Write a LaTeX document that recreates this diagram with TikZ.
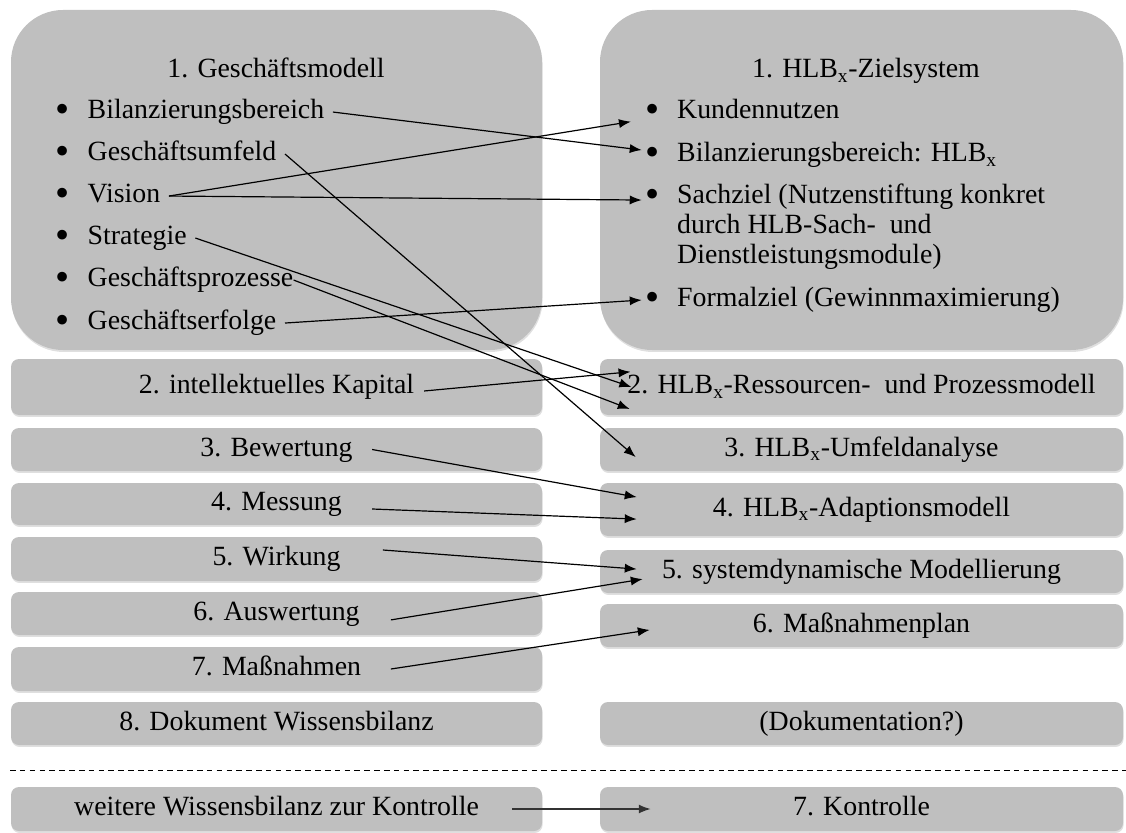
\documentclass[tikz,border=0pt]{standalone}
\usepackage{fontspec}
\setmainfont{Liberation Serif}
\usetikzlibrary{arrows.meta}
\usetikzlibrary{shadows}
\tikzset{>={Latex[length=8.5pt, width=6.5pt]}}
\newcommand{\boxfont}{\fontsize{19.8pt}{21.3pt}\selectfont}
\newcommand{\bull}{\leavevmode\llap{\raisebox{-0.11em}{\scalebox{1.45}{\textbullet}}\hspace{0.64em}}}
\newcommand{\hlb}{HLB\textsubscript{x}}
\tikzstyle{boxshadow} = [drop shadow={shadow xshift=0.4pt, shadow yshift=-1.4pt, opacity=0.25}]
\tikzstyle{bigbox} = [rectangle, fill=gray!50, rounded corners=1.3cm, minimum width=13.275cm, minimum height=8.5cm, boxshadow]
\tikzstyle{lbox} = [rectangle, fill=gray!50, rounded corners=0.2cm, inner sep=0pt, minimum width=13.275cm, minimum height=1.1cm, text height=13.9pt, text depth=4pt, font=\boxfont, boxshadow]
\tikzstyle{rbox} = [lbox, minimum width=13.075cm]
\tikzstyle{item} = [anchor=base west, inner xsep=6pt, inner ysep=0pt, text height=13.9pt, text depth=4pt, font=\boxfont]
\tikzstyle{headline} = [anchor=base, font=\boxfont]
\tikzstyle{link} = [->, line width=0.85pt]

\begin{document}
\begin{tikzpicture}
\useasboundingbox (0, 0) rectangle (28.15, 20.8);
\node [bigbox] (G) at (6.9125, 16.3) {};
\node [bigbox, minimum width=13.075cm] (Z) at (21.5375, 16.3) {};
\node [headline] (Gt) at (6.9, 18.85) {1. Geschäftsmodell};
\node [headline] (Zt) at (21.65, 18.85) {1. \hlb-Zielsystem};

\node [item] (gbil) at (1.975, 17.825) {\bull Bilanzierungsbereich};
\node [item] (gumf) at (1.975, 16.775) {\bull Geschäftsumfeld};
\node [item] (gvis) at (1.975, 15.725) {\bull Vision};
\node [item] (gstr) at (1.975, 14.675) {\bull Strategie};
\node [item] (gpro) at (1.975, 13.625) {\bull Geschäftsprozesse};
\node [item] (gerf) at (1.975, 12.55) {\bull Geschäftserfolge};

\node [item] (zkun) at (16.7125, 17.825) {\bull Kundennutzen};
\node [item] (zbil) at (16.7125, 16.75) {\bull Bilanzierungsbereich: \hlb};
\node [item] (zsach) at (16.7125, 15.7) {\parbox[t]{10cm}{\bull Sachziel (Nutzenstiftung konkret\\durch HLB-Sach-~ und\\Dienstleistungsmodule)}};
\node [item] (zform) at (16.7125, 13.125) {\bull Formalziel (Gewinnmaximierung)};

\node [lbox, minimum height=1.4cm] (L2) at (6.9125, 11.125) {2. intellektuelles Kapital};
\node [rbox, minimum height=1.4cm] (R2) at (21.5375, 11.125) {2. \hlb-Ressourcen-~ und Prozessmodell};
\node [lbox, minimum height=1.075cm] (L3) at (6.9125, 9.5625) {3. Bewertung};
\node [rbox, minimum height=1.075cm] (R3) at (21.5375, 9.5625) {3. \hlb-Umfeldanalyse};
\node [lbox, minimum height=1.05cm] (L4) at (6.9125, 8.2) {4. Messung};
\node [rbox, minimum height=1.325cm] (R4) at (21.5375, 8.0625) {4. \hlb-Adaptionsmodell};
\node [lbox] (L5) at (6.9125, 6.825) {5. Wirkung};
\node [rbox, minimum height=1.075cm] (R5) at (21.5375, 6.5125) {5. systemdynamische Modellierung};
\node [lbox, minimum height=1.075cm] (L6) at (6.9125, 5.4625) {6. Auswertung};
\node [rbox, minimum height=1.075cm] (R6) at (21.5375, 5.1625) {6. Maßnahmenplan};
\node [lbox] (L7) at (6.9125, 4.075) {7. Maßnahmen};
\node [lbox, minimum height=1.075cm] (L8) at (6.9125, 2.7125) {8. Dokument Wissensbilanz};
\node [rbox, minimum height=1.075cm] (R8) at (21.5375, 2.7125) {(Dokumentation?)};
\node [lbox] (L9) at (6.9125, 0.575) {weitere Wissensbilanz zur Kontrolle};
\node [rbox] (R9) at (21.5375, 0.575) {7. Kontrolle};

\coordinate (sepL) at (0.25, 1.55);
\coordinate (sepR) at (28.15, 1.55);
\draw [dash pattern=on 4pt off 3pt, line width=0.6pt] (sepL) -- (sepR);

\draw [link] (gbil.east) -- ([xshift=-0.67cm, yshift=0.125cm]zbil.west);
\draw [link] (gvis.east) -- ([xshift=-0.94cm, yshift=-0.24cm]zkun.west);
\draw [link] (gvis.east) -- ([xshift=-0.67cm, yshift=-0.075cm]zsach.west);
\draw [link] (gumf.east) -- ([xshift=0.9cm, yshift=-0.19cm]R3.west);
\draw [link] (gstr.east) -- ([xshift=0.79cm]R2.west);
\draw [link] ([xshift=-6pt]gpro.east) -- ([xshift=0.75cm, yshift=-0.55cm]R2.west);
\draw [link] (gerf.east) -- ([xshift=-0.67cm]zform.west);
\draw [link] ([xshift=3.69cm, yshift=-0.1cm]L2.center) -- ([xshift=0.77cm, yshift=0.38cm]R2.west);
\draw [link] ([xshift=2.39cm]L3.center) -- ([xshift=0.925cm, yshift=0.31cm]R4.west);
\draw [link] ([xshift=2.39cm, yshift=-0.125cm]L4.center) -- ([xshift=0.925cm, yshift=-0.24cm]R4.west);
\draw [link] ([xshift=2.66cm, yshift=0.225cm]L5.center) -- ([xshift=0.925cm, yshift=0.06cm]R5.west);
\draw [link] ([xshift=2.86cm, yshift=-0.16cm]L6.center) -- ([xshift=1.075cm, yshift=-0.19cm]R5.west);
\draw [link] ([xshift=2.86cm]L7.center) -- ([xshift=1.25cm, yshift=-0.11cm]R6.west);
\draw [link, line width=1.1pt, draw=black!80] ([xshift=5.89cm]L9.center) -- ([xshift=1.275cm]R9.west);
\end{tikzpicture}
\end{document}
